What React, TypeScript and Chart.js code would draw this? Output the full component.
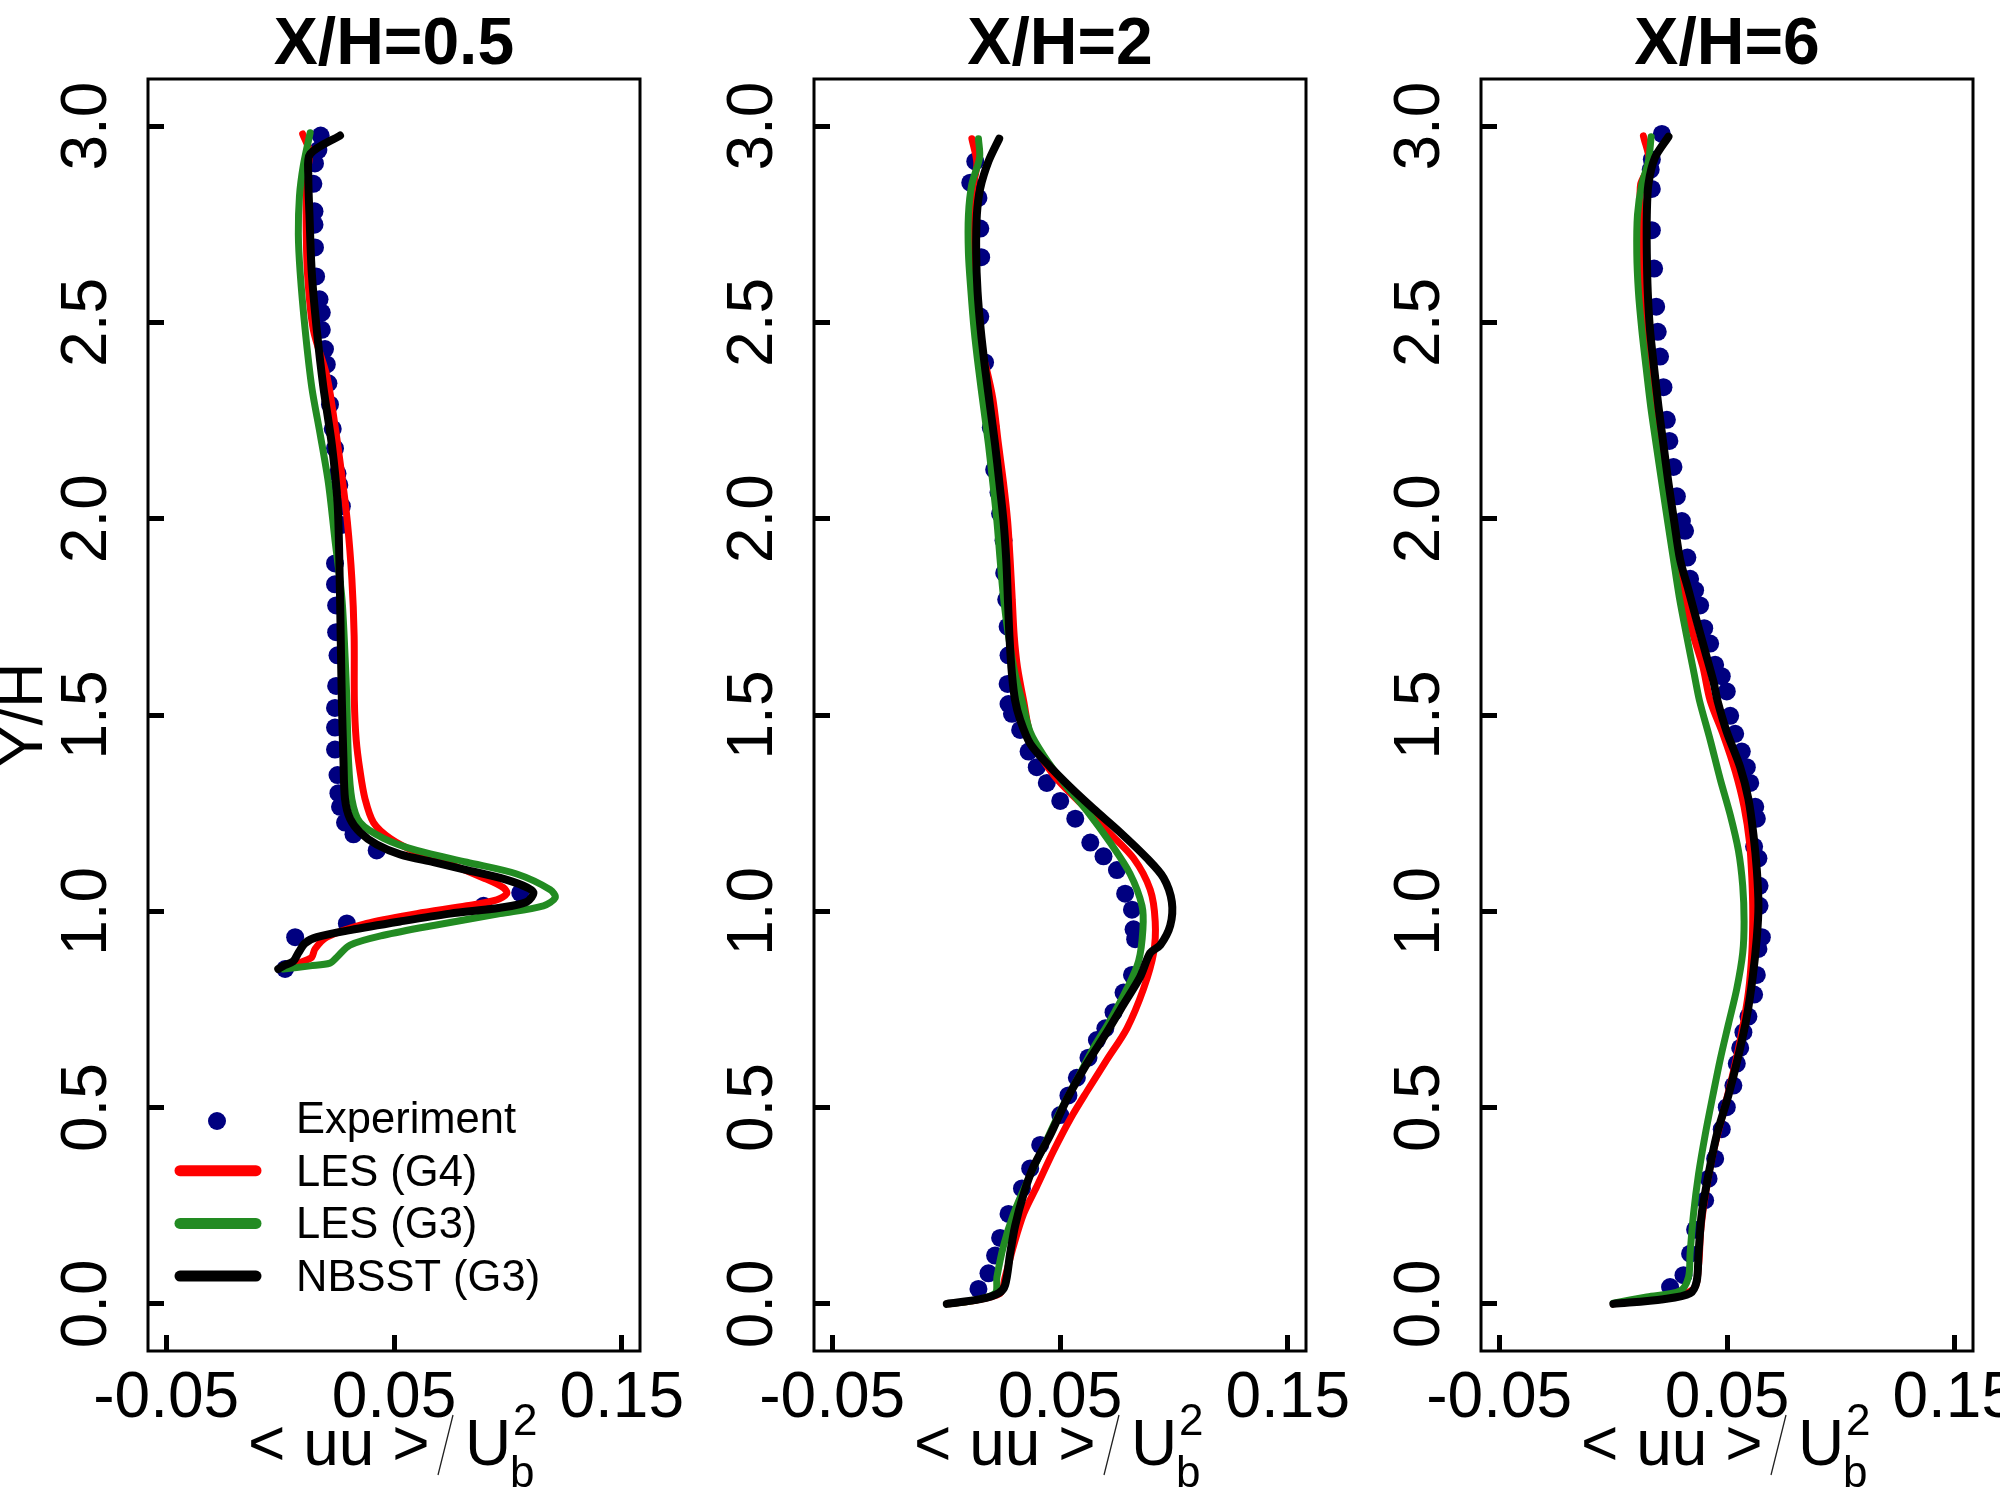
import { useEffect, useRef } from "react";
import { Chart, registerables } from "chart.js";

Chart.register(...registerables);

const FONT = "'Liberation Sans', Arial, Helvetica, sans-serif";

// panel titles
const stations = ["X/H=0.5", "X/H=2", "X/H=6"];
const seriesNames = ["Experiment", "LES (G4)", "LES (G3)", "NBSST (G3)"];
const seriesColors = ["#000080", "#ff0000", "#228b22", "#000000"];

const xTicks = [-0.05, 0.05, 0.15];
const xTickLabels = ["-0.05", "0.05", "0.15"];
const yTicks = [0, 0.5, 1, 1.5, 2, 2.5, 3];
const yTickLabels = ["0.0", "0.5", "1.0", "1.5", "2.0", "2.5", "3.0"];

// [ <uu>/Ub^2 , Y/H ]  -- X/H = 0.5
const exp05 = [
  [0.0178, 2.976], [0.0168, 2.939], [0.0153, 2.905], [0.0146, 2.853], [0.0151, 2.783],
  [0.0151, 2.749], [0.0153, 2.691], [0.0158, 2.617], [0.0173, 2.559], [0.0183, 2.525],
  [0.0183, 2.481], [0.0197, 2.432], [0.0205, 2.393], [0.0212, 2.345], [0.0219, 2.291],
  [0.0231, 2.229], [0.0241, 2.179], [0.0252, 2.115], [0.026, 2.086], [0.0271, 2.032],
  [0.0271, 1.984], [0.0241, 1.886], [0.0241, 1.833], [0.0246, 1.779], [0.0246, 1.711],
  [0.0252, 1.652], [0.0246, 1.574], [0.0241, 1.518], [0.0241, 1.468], [0.0241, 1.412],
  [0.0252, 1.347], [0.0256, 1.301], [0.0263, 1.266], [0.0285, 1.226], [0.0322, 1.196],
  [0.0424, 1.155], [0.1054, 1.047], [0.0893, 1.014], [0.0293, 0.969], [0.0066, 0.934],
  [0.0022, 0.853],
];
const g4_05 = [
  [0.0099, 2.98], [0.0129, 2.934], [0.0117, 2.871], [0.0114, 2.773], [0.012, 2.627],
  [0.0146, 2.481], [0.0205, 2.364], [0.0241, 2.237], [0.0271, 2.11], [0.0295, 1.993],
  [0.0315, 1.847], [0.0325, 1.701], [0.0326, 1.537], [0.0334, 1.437], [0.0351, 1.357],
  [0.0373, 1.286], [0.041, 1.226], [0.0483, 1.186], [0.06, 1.15], [0.0746, 1.12],
  [0.0893, 1.085], [0.0981, 1.06], [0.0995, 1.045], [0.0951, 1.029], [0.082, 1.014],
  [0.06, 0.994], [0.038, 0.969], [0.0205, 0.934], [0.0153, 0.904], [0.0139, 0.883],
  [0.0102, 0.873], [0.0014, 0.855],
];
const g3_05 = [
  [0.0132, 2.983], [0.0102, 2.9], [0.0085, 2.822], [0.008, 2.725], [0.0088, 2.627],
  [0.011, 2.481], [0.0139, 2.335], [0.0175, 2.218], [0.0212, 2.091], [0.0241, 1.945],
  [0.0271, 1.799], [0.0285, 1.652], [0.0293, 1.537], [0.03, 1.387], [0.0315, 1.286],
  [0.0351, 1.226], [0.0454, 1.186], [0.06, 1.155], [0.082, 1.125], [0.1039, 1.095],
  [0.1186, 1.055], [0.1208, 1.035], [0.1156, 1.014], [0.0966, 0.994], [0.0673, 0.964],
  [0.0454, 0.939], [0.0307, 0.914], [0.0249, 0.883], [0.0219, 0.868], [0.0132, 0.861],
  [0.0014, 0.853],
];
const nb05 = [
  [0.0263, 2.976], [0.0132, 2.929], [0.0124, 2.871], [0.0129, 2.773], [0.0139, 2.627],
  [0.0161, 2.481], [0.019, 2.335], [0.0227, 2.189], [0.0252, 2.042], [0.026, 1.896],
  [0.0266, 1.701], [0.0271, 1.537], [0.0278, 1.387], [0.0285, 1.286], [0.0307, 1.236],
  [0.0351, 1.201], [0.0424, 1.17], [0.0527, 1.145], [0.0673, 1.125], [0.082, 1.105],
  [0.0966, 1.085], [0.1068, 1.065], [0.1112, 1.048], [0.1083, 1.024], [0.0966, 1.009],
  [0.0746, 0.994], [0.0527, 0.974], [0.0307, 0.952], [0.0161, 0.934], [0.011, 0.919],
  [0.008, 0.894], [0.0058, 0.873], [0.0014, 0.861], [-0.0008, 0.853],
];

// X/H = 2
const exp2 = [
  [0.0128, 2.91], [0.0106, 2.856], [0.0142, 2.817], [0.015, 2.739], [0.0154, 2.666],
  [0.015, 2.515], [0.0171, 2.398], [0.0196, 2.232], [0.0211, 2.125], [0.023, 2.067],
  [0.0237, 2.013], [0.0252, 1.945], [0.0255, 1.862], [0.0264, 1.794], [0.027, 1.725],
  [0.0274, 1.652], [0.027, 1.579], [0.0274, 1.528], [0.0289, 1.503], [0.0325, 1.462],
  [0.0362, 1.407], [0.0398, 1.367], [0.0442, 1.327], [0.0501, 1.281], [0.0567, 1.236],
  [0.0633, 1.175], [0.0691, 1.14], [0.075, 1.105], [0.0786, 1.045], [0.0816, 1.004],
  [0.0823, 0.954], [0.083, 0.929], [0.0816, 0.838], [0.0779, 0.793], [0.0735, 0.743],
  [0.0699, 0.702], [0.0662, 0.672], [0.0625, 0.627], [0.0574, 0.576], [0.0537, 0.531],
  [0.0501, 0.481], [0.0413, 0.405], [0.0369, 0.345], [0.0333, 0.294], [0.0274, 0.229],
  [0.0237, 0.168], [0.0215, 0.123], [0.0186, 0.078], [0.0142, 0.038],
];
const g4_2 = [
  [0.0113, 2.968], [0.0135, 2.905], [0.0117, 2.842], [0.0106, 2.774], [0.0106, 2.676],
  [0.0116, 2.579], [0.0132, 2.481], [0.0176, 2.384], [0.0205, 2.306], [0.023, 2.189],
  [0.0252, 2.091], [0.027, 1.994], [0.0281, 1.896], [0.029, 1.799], [0.0299, 1.701],
  [0.0313, 1.623], [0.034, 1.537], [0.0376, 1.437], [0.0472, 1.347], [0.0589, 1.276],
  [0.0706, 1.206], [0.0823, 1.135], [0.0896, 1.055], [0.0918, 0.974], [0.0911, 0.894],
  [0.0867, 0.803], [0.0794, 0.702], [0.0706, 0.622], [0.0618, 0.541], [0.0545, 0.471],
  [0.0472, 0.39], [0.0398, 0.299], [0.034, 0.229], [0.0296, 0.148], [0.0259, 0.068],
  [0.0237, 0.027], [0.0106, 0.007], [0.0003, 0.0],
];
const g3_2 = [
  [0.0142, 2.968], [0.0147, 2.92], [0.0113, 2.852], [0.0098, 2.774], [0.0098, 2.676],
  [0.0109, 2.579], [0.0123, 2.481], [0.0142, 2.384], [0.0164, 2.286], [0.0186, 2.189],
  [0.0205, 2.091], [0.0223, 1.994], [0.0237, 1.896], [0.0252, 1.799], [0.0274, 1.701],
  [0.0303, 1.604], [0.0333, 1.537], [0.0369, 1.457], [0.0428, 1.397], [0.0516, 1.327],
  [0.0618, 1.256], [0.072, 1.175], [0.0808, 1.095], [0.086, 1.014], [0.0864, 0.954],
  [0.0845, 0.873], [0.0794, 0.803], [0.072, 0.722], [0.0647, 0.652], [0.0574, 0.571],
  [0.0501, 0.491], [0.0428, 0.4], [0.0354, 0.309], [0.0296, 0.229], [0.0252, 0.148],
  [0.0223, 0.068], [0.0215, 0.027], [0.0106, 0.007], [0.0003, 0.0],
];
const nb2 = [
  [0.0233, 2.968], [0.0186, 2.91], [0.015, 2.842], [0.0135, 2.774], [0.0132, 2.676],
  [0.0138, 2.579], [0.0152, 2.481], [0.0171, 2.384], [0.0193, 2.286], [0.0215, 2.189],
  [0.0234, 2.091], [0.0252, 1.994], [0.0264, 1.896], [0.0271, 1.799], [0.0278, 1.701],
  [0.0289, 1.604], [0.0303, 1.537], [0.0325, 1.488], [0.0369, 1.427], [0.0442, 1.377],
  [0.0545, 1.316], [0.0647, 1.261], [0.0764, 1.201], [0.0882, 1.135], [0.0955, 1.085],
  [0.0991, 1.024], [0.0984, 0.964], [0.094, 0.914], [0.0896, 0.894], [0.0852, 0.833],
  [0.0779, 0.763], [0.0706, 0.692], [0.0618, 0.612], [0.053, 0.521], [0.0457, 0.43],
  [0.0384, 0.35], [0.034, 0.279], [0.0303, 0.199], [0.0281, 0.128], [0.0259, 0.048],
  [0.023, 0.027], [0.015, 0.012], [0.0003, 0.0],
];

// X/H = 6
const exp6 = [
  [0.0214, 2.98], [0.017, 2.915], [0.0165, 2.889], [0.017, 2.84], [0.017, 2.735],
  [0.018, 2.637], [0.0189, 2.54], [0.0196, 2.476], [0.0206, 2.413], [0.0221, 2.335],
  [0.0236, 2.252], [0.0247, 2.198], [0.0265, 2.132], [0.028, 2.057], [0.0302, 1.994],
  [0.0316, 1.969], [0.0326, 1.901], [0.0338, 1.847], [0.036, 1.818], [0.0382, 1.779],
  [0.04, 1.721], [0.0426, 1.682], [0.0448, 1.628], [0.0477, 1.599], [0.0499, 1.56],
  [0.0514, 1.498], [0.0536, 1.452], [0.0565, 1.407], [0.0587, 1.367], [0.0602, 1.327],
  [0.0624, 1.266], [0.0631, 1.236], [0.0619, 1.165], [0.0638, 1.135], [0.0643, 1.065],
  [0.0643, 1.014], [0.0653, 0.934], [0.0638, 0.904], [0.0631, 0.838], [0.0619, 0.788],
  [0.0594, 0.732], [0.0572, 0.692], [0.0558, 0.652], [0.0543, 0.612], [0.0528, 0.556],
  [0.0499, 0.501], [0.0477, 0.445], [0.0448, 0.37], [0.0419, 0.319], [0.0404, 0.264],
  [0.036, 0.189], [0.0338, 0.128], [0.0309, 0.073], [0.025, 0.043],
];
const g4_6 = [
  [0.0133, 2.975], [0.016, 2.905], [0.0121, 2.852], [0.0121, 2.774], [0.0121, 2.676],
  [0.013, 2.579], [0.0145, 2.481], [0.0162, 2.384], [0.0183, 2.286], [0.0206, 2.189],
  [0.023, 2.091], [0.0255, 1.994], [0.028, 1.896], [0.0312, 1.799], [0.0353, 1.701],
  [0.0394, 1.623], [0.0426, 1.537], [0.0485, 1.447], [0.0536, 1.357], [0.0575, 1.266],
  [0.0599, 1.175], [0.0609, 1.085], [0.0613, 0.994], [0.0609, 0.894], [0.0594, 0.793],
  [0.0565, 0.692], [0.0528, 0.591], [0.0485, 0.491], [0.0441, 0.39], [0.0408, 0.289],
  [0.0385, 0.189], [0.0375, 0.098], [0.0353, 0.038], [0.0221, 0.015], [0.0001, 0.0],
];
const g3_6 = [
  [0.0167, 2.973], [0.0155, 2.91], [0.0126, 2.852], [0.0107, 2.774], [0.0104, 2.676],
  [0.0111, 2.579], [0.0126, 2.481], [0.0145, 2.384], [0.0165, 2.286], [0.0189, 2.189],
  [0.0214, 2.091], [0.0239, 1.994], [0.0265, 1.896], [0.0291, 1.799], [0.0323, 1.701],
  [0.0356, 1.604], [0.0379, 1.537], [0.0426, 1.437], [0.047, 1.337], [0.0514, 1.246],
  [0.055, 1.155], [0.0569, 1.065], [0.0575, 0.974], [0.0569, 0.894], [0.0543, 0.803],
  [0.0506, 0.712], [0.047, 0.622], [0.0438, 0.531], [0.0404, 0.43], [0.0375, 0.33],
  [0.0353, 0.229], [0.0338, 0.128], [0.0331, 0.068], [0.0294, 0.033], [0.0148, 0.018],
  [0.0001, 0.002],
];
const nb6 = [
  [0.0243, 2.973], [0.0184, 2.92], [0.0155, 2.852], [0.0148, 2.774], [0.0148, 2.676],
  [0.0152, 2.579], [0.0162, 2.481], [0.018, 2.384], [0.0199, 2.286], [0.0221, 2.189],
  [0.0243, 2.091], [0.0268, 1.994], [0.0294, 1.896], [0.0331, 1.818], [0.0367, 1.74],
  [0.0404, 1.662], [0.0441, 1.584], [0.0458, 1.537], [0.0499, 1.457], [0.0558, 1.367],
  [0.0594, 1.286], [0.0616, 1.196], [0.0631, 1.105], [0.0638, 1.014], [0.0631, 0.934],
  [0.0613, 0.833], [0.0587, 0.732], [0.055, 0.632], [0.0506, 0.531], [0.0455, 0.43],
  [0.0419, 0.33], [0.0389, 0.229], [0.0375, 0.128], [0.0367, 0.058], [0.0338, 0.027],
  [0.0221, 0.012], [0.0001, 0.0],
];

const panels = [
  [exp05, g4_05, g3_05, nb05],
  [exp2, g4_2, g3_2, nb2],
  [exp6, g4_6, g3_6, nb6],
];

// page layout (pixels)
const CANVAS_W = 2200;
const PANEL_LEFT = [148, 814, 1481];
const PANEL_W = 492;
const AREA_TOP = 79;
const AREA_BOTTOM = 1351;
const Y_AXIS_W = 130;
const X_AXIS_H = 120;

const decor = (idx: number) => ({
  id: "decor" + idx,
  afterDatasetsDraw(chart: any) {
    const { ctx, chartArea: a } = chart;
    const cx = (a.left + a.right) / 2;
    ctx.save();
    ctx.strokeStyle = "#000";
    ctx.lineWidth = 3;
    ctx.strokeRect(a.left, a.top, a.right - a.left, a.bottom - a.top);

    ctx.fillStyle = "#000";
    ctx.textBaseline = "alphabetic";
    ctx.textAlign = "center";
    ctx.font = `bold 66px ${FONT}`;
    ctx.fillText(stations[idx], cx, 64);

    // x title  < uu > / U_b^2
    const B = 1465;
    ctx.textAlign = "left";
    ctx.font = `64px ${FONT}`;
    ctx.fillText("< uu >", cx - 146, B);
    ctx.fillText("U", cx + 71, B);
    ctx.font = `44px ${FONT}`;
    ctx.fillText("b", cx + 116, B + 22);
    ctx.fillText("2", cx + 119, B - 30);
    ctx.beginPath();
    ctx.lineWidth = 1.3;
    ctx.strokeStyle = "#222";
    ctx.moveTo(cx + 59, B - 50);
    ctx.lineTo(cx + 44, B + 10);
    ctx.stroke();

    if (idx === 0) {
      ctx.save();
      ctx.translate(42, (a.top + a.bottom) / 2);
      ctx.rotate(-Math.PI / 2);
      ctx.textAlign = "center";
      ctx.font = `63px ${FONT}`;
      ctx.fillText("Y/H", 0, 0);
      ctx.restore();

      // legend
      ctx.font = `43.5px ${FONT}`;
      ctx.textAlign = "left";
      chart.data.datasets.forEach((ds: any, i: number) => {
        const base = 1133 + i * 52.7;
        const mid = base - 15;
        if (ds.showLine) {
          ctx.beginPath();
          ctx.lineCap = "round";
          ctx.lineWidth = 11;
          ctx.strokeStyle = ds.borderColor;
          ctx.moveTo(a.left + 32, mid);
          ctx.lineTo(a.left + 108, mid);
          ctx.stroke();
        } else {
          ctx.beginPath();
          ctx.fillStyle = ds.backgroundColor;
          ctx.arc(a.left + 69, mid + 3, 9, 0, Math.PI * 2);
          ctx.fill();
        }
        ctx.fillStyle = "#000";
        ctx.fillText(ds.label, a.left + 148, base);
      });
    }
    ctx.restore();
  },
});

const tickFont = { family: FONT, size: 64 };

const makeConfig = (idx: number): any => {
  const [exp, g4, g3, nb] = panels[idx];
  const toPts = (arr: number[][]) => arr.map(([x, y]) => ({ x, y }));
  const line = (arr: number[][], i: number, width: number, order: number) => ({
    label: seriesNames[i],
    data: toPts(arr),
    showLine: true,
    borderColor: seriesColors[i],
    backgroundColor: seriesColors[i],
    borderWidth: width,
    pointRadius: 0,
    tension: 0.3,
    borderJoinStyle: "round",
    borderCapStyle: "round",
    order,
  });
  const left = PANEL_LEFT[idx];
  return {
    type: "scatter",
    data: {
      datasets: [
        {
          label: seriesNames[0],
          data: toPts(exp),
          showLine: false,
          pointRadius: 9,
          pointBorderWidth: 0,
          backgroundColor: seriesColors[0],
          borderColor: seriesColors[0],
          order: 4,
        },
        line(g4, 1, 7, 3),
        line(g3, 2, 7, 2),
        line(nb, 3, 8, 1),
      ],
    },
    options: {
      animation: false,
      responsive: false,
      devicePixelRatio: 1,
      events: [],
      layout: {
        padding: {
          left: left - Y_AXIS_W,
          right: CANVAS_W - (left + PANEL_W),
          top: AREA_TOP,
          bottom: 1500 - AREA_BOTTOM - X_AXIS_H,
        },
      },
      plugins: { legend: { display: false }, tooltip: { enabled: false } },
      scales: {
        x: {
          type: "linear",
          min: -0.058,
          max: 0.158,
          afterBuildTicks: (s: any) => {
            s.ticks = xTicks.map((v) => ({ value: v }));
          },
          afterFit: (s: any) => {
            s.height = X_AXIS_H;
            s.paddingLeft = 0;
            s.paddingRight = 0;
          },
          ticks: {
            autoSkip: false,
            minRotation: 0,
            maxRotation: 0,
            padding: 26,
            color: "#000",
            font: tickFont,
            callback: (v: number) => xTickLabels[xTicks.indexOf(v)] ?? String(v),
          },
          grid: {
            drawOnChartArea: false,
            drawTicks: true,
            tickLength: -16,
            tickWidth: 5,
            tickColor: "#000",
          },
          border: { display: false },
        },
        y: {
          type: "linear",
          min: -0.12,
          max: 3.12,
          afterBuildTicks: (s: any) => {
            s.ticks = yTicks.map((v) => ({ value: v }));
          },
          afterFit: (s: any) => {
            s.width = Y_AXIS_W;
            s.paddingTop = 0;
            s.paddingBottom = 0;
          },
          ticks: {
            autoSkip: false,
            minRotation: 90,
            maxRotation: 90,
            crossAlign: "center",
            padding: 31,
            color: "#000",
            font: tickFont,
            callback: (v: number) => yTickLabels[yTicks.indexOf(v)] ?? String(v),
          },
          grid: {
            drawOnChartArea: false,
            drawTicks: true,
            tickLength: -16,
            tickWidth: 5,
            tickColor: "#000",
          },
          border: { display: false },
        },
      },
    },
    plugins: [decor(idx)],
  };
};

const Panel = ({ idx }: { idx: number }) => {
  const ref = useRef<HTMLCanvasElement>(null);
  useEffect(() => {
    const chart = new Chart(ref.current as HTMLCanvasElement, makeConfig(idx));
    return () => {
      chart.destroy();
    };
  }, [idx]);
  return (
    <canvas
      ref={ref}
      width={CANVAS_W}
      height={1500}
      style={{ position: "absolute", left: 0, top: 0, width: CANVAS_W, height: 1500 }}
    />
  );
};

const App = () => {
  return (
    <div
      style={{
        position: "absolute",
        left: 0,
        top: 0,
        width: 2000,
        height: 1500,
        overflow: "hidden",
        background: "#fff",
      }}
    >
      <Panel idx={0} />
      <Panel idx={1} />
      <Panel idx={2} />
    </div>
  );
};

export default App;
